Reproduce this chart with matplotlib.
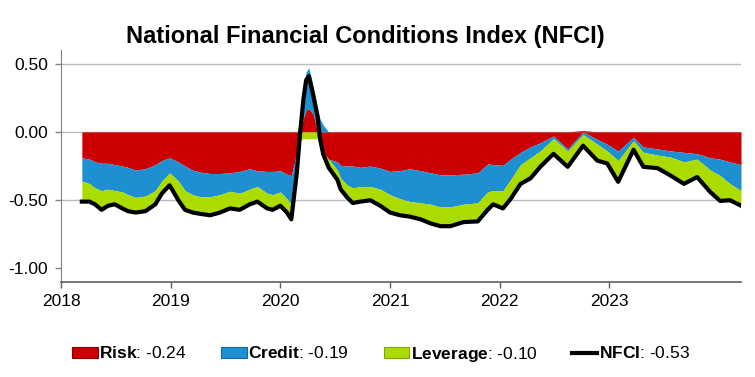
import matplotlib
matplotlib.use("Agg")
import matplotlib.pyplot as plt
from matplotlib.patches import Patch
from matplotlib.lines import Line2D
from matplotlib.transforms import offset_copy
import numpy as np

plt.rcParams['font.family'] = ['Liberation Sans', 'DejaVu Sans']
plt.rcParams['mathtext.fontset'] = 'custom'
plt.rcParams['mathtext.rm'] = 'Liberation Sans'
plt.rcParams['mathtext.bf'] = 'Liberation Sans:bold'

# decimal years of the observations (denser around the 2020 spike)
dates = [2018.19, 2018.26, 2018.31, 2018.37, 2018.43, 2018.49, 2018.56, 2018.61,
         2018.68, 2018.77, 2018.86, 2018.92, 2018.99, 2019.07, 2019.13, 2019.20,
         2019.27, 2019.36, 2019.45, 2019.54, 2019.63, 2019.72, 2019.79, 2019.88,
         2019.93, 2020.00, 2020.06, 2020.10, 2020.15, 2020.18, 2020.21, 2020.235,
         2020.26, 2020.30, 2020.34, 2020.36, 2020.39, 2020.44, 2020.52, 2020.55,
         2020.61, 2020.66, 2020.73, 2020.82, 2020.91, 2021.00, 2021.09, 2021.18,
         2021.28, 2021.37, 2021.46, 2021.55, 2021.67, 2021.80, 2021.89, 2021.94,
         2022.03, 2022.10, 2022.19, 2022.28, 2022.37, 2022.49, 2022.62, 2022.76,
         2022.89, 2022.98, 2023.08, 2023.22, 2023.31, 2023.44, 2023.56, 2023.68,
         2023.80, 2023.92, 2024.01, 2024.10, 2024.20]

risk = [-0.19, -0.20, -0.22, -0.23, -0.23, -0.24, -0.25, -0.26,
        -0.28, -0.27, -0.24, -0.21, -0.19, -0.22, -0.25, -0.28,
        -0.295, -0.305, -0.305, -0.30, -0.29, -0.27, -0.285, -0.29,
        -0.29, -0.285, -0.31, -0.32, -0.15, 0.00, 0.10, 0.16,
        0.17, 0.13, 0.00, -0.08, -0.15, -0.20, -0.22, -0.245,
        -0.25, -0.25, -0.26, -0.25, -0.265, -0.29, -0.285, -0.27,
        -0.285, -0.30, -0.315, -0.315, -0.31, -0.30, -0.235, -0.24,
        -0.245, -0.20, -0.15, -0.11, -0.08, -0.03, -0.125, 0.01,
        -0.055, -0.09, -0.14, -0.04, -0.11, -0.125, -0.14, -0.15,
        -0.16, -0.19, -0.20, -0.22, -0.24]

credit = [-0.17, -0.18, -0.19, -0.20, -0.19, -0.19, -0.19, -0.20,
          -0.20, -0.20, -0.19, -0.15, -0.11, -0.14, -0.18, -0.18,
          -0.18, -0.17, -0.155, -0.135, -0.16, -0.15, -0.115, -0.16,
          -0.17, -0.155, -0.18, -0.21, -0.05, 0.06, 0.20, 0.28,
          0.30, 0.20, 0.17, 0.10, 0.05, 0.00, -0.06, -0.095,
          -0.14, -0.16, -0.14, -0.15, -0.155, -0.17, -0.205, -0.24,
          -0.235, -0.23, -0.235, -0.235, -0.22, -0.22, -0.205, -0.19,
          -0.185, -0.15, -0.09, -0.08, -0.06, -0.02, -0.015, -0.02,
          -0.035, -0.05, -0.07, -0.025, -0.04, -0.045, -0.045, -0.07,
          -0.04, -0.09, -0.12, -0.16, -0.19]

leverage = [-0.14, -0.12, -0.11, -0.13, -0.11, -0.09, -0.11, -0.11,
            -0.10, -0.10, -0.09, -0.08, -0.08, -0.13, -0.13, -0.12,
            -0.115, -0.125, -0.12, -0.115, -0.11, -0.10, -0.10, -0.10,
            -0.10, -0.09, -0.09, -0.10, -0.09, -0.06, -0.05, -0.05,
            -0.05, -0.05, -0.05, -0.05, -0.05, -0.05, -0.06, -0.07,
            -0.08, -0.10, -0.10, -0.09, -0.11, -0.12, -0.11, -0.10,
            -0.11, -0.13, -0.13, -0.13, -0.12, -0.125, -0.12, -0.09,
            -0.12, -0.13, -0.13, -0.14, -0.105, -0.10, -0.105, -0.08,
            -0.11, -0.08, -0.145, -0.055, -0.095, -0.085, -0.125, -0.15,
            -0.12, -0.15, -0.175, -0.11, -0.10]

names = ['Risk', 'Credit', 'Leverage']
colors = ['#CC0000', '#1E8FD0', '#AADC00']
edges = ['#8B0000', '#0F6BA8', '#7FA800']

x = np.array(dates)
comps = [np.array(risk), np.array(credit), np.array(leverage)]
nfci = comps[0] + comps[1] + comps[2]

fig = plt.figure(figsize=(7.55, 3.77), dpi=100)
ax = fig.add_axes([61 / 755, 1 - 282 / 377, 680 / 755, 232 / 377])

# stack positive parts upward and negative parts downward
pos_base = np.zeros_like(x)
neg_base = np.zeros_like(x)
for vals, c in zip(comps, colors):
    pos = np.clip(vals, 0, None)
    neg = np.clip(vals, None, 0)
    ax.fill_between(x, pos_base, pos_base + pos, color=c, lw=0, zorder=2)
    ax.fill_between(x, neg_base, neg_base + neg, color=c, lw=0, zorder=2)
    pos_base = pos_base + pos
    neg_base = neg_base + neg

# the index line sits just under the stacked areas, as in the original
line_tr = offset_copy(ax.transData, fig=fig, y=-1.5, units='dots')
ax.plot(x, nfci, color='black', lw=3, zorder=4, solid_joinstyle='round',
        transform=line_tr)

for g in [0.5, 0.0, -0.5]:
    ax.axhline(g, color='#BBBBBB', lw=1, zorder=1)

ax.set_xlim(2018, 2024.2)
ax.set_ylim(-1.1, 0.6)
ax.set_yticks([0.5, 0.0, -0.5, -1.0])
ax.set_yticklabels(['0.50', '0.00', '-0.50', '-1.00'])
years = [2018, 2019, 2020, 2021, 2022, 2023]
ax.set_xticks(years)
ax.set_xticklabels([str(y) for y in years])
ax.tick_params(axis='y', length=4.5, width=1, color='#808080', pad=5, labelsize=12.5)
ax.tick_params(axis='x', length=4, width=1, color='#606060', pad=5, labelsize=12.5)
for s in ['top', 'right']:
    ax.spines[s].set_visible(False)
ax.spines['left'].set_color('#808080')
ax.spines['bottom'].set_color('#606060')
ax.spines['bottom'].set_linewidth(1.2)

fig.text(0.4834, 1 - 43.5 / 377, 'National Financial Conditions Index (NFCI)',
         ha='center', va='baseline', fontsize=17, fontweight='bold')

handles = [Patch(facecolor=c, edgecolor=e, lw=0.8) for c, e in zip(colors, edges)]
handles.append(Line2D([0], [0], color='black', lw=3))
labels = [r'$\mathbf{%s}$: %.2f' % (n, v[-1]) for n, v in zip(names, comps)]
labels.append(r'$\mathbf{NFCI}$: %.2f' % nfci[-1])
fig.legend(handles, labels, loc='center', bbox_to_anchor=(0.505, 1 - 354 / 377),
           ncol=4, frameon=False, fontsize=12.5, handlelength=1.45,
           handleheight=0.55, handletextpad=0.1, columnspacing=2.0)

fig.savefig('out.png', dpi=100)
